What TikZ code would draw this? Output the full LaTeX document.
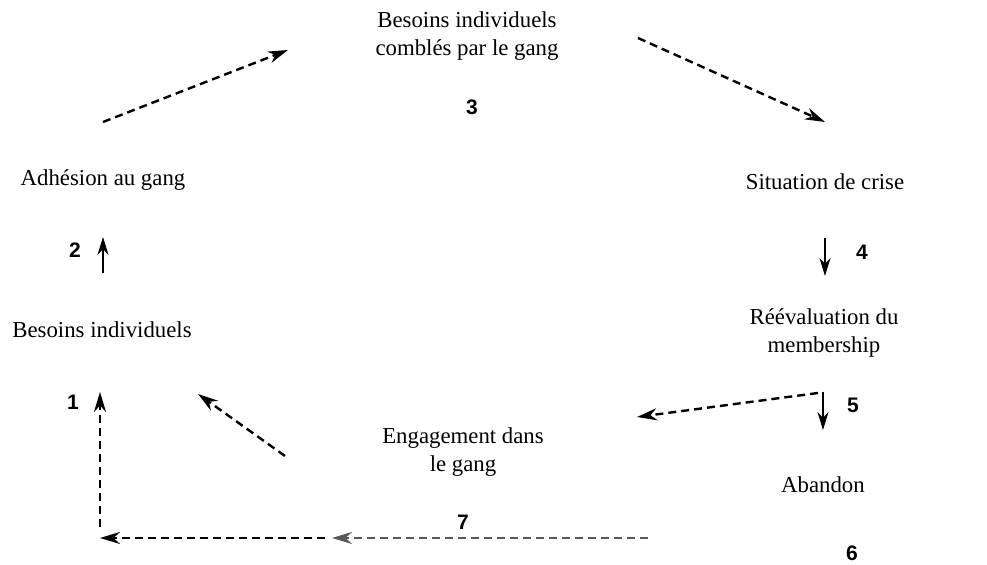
\documentclass[tikz,border=0pt]{standalone}
\usepackage{fontspec}
\setmainfont{Liberation Serif}
\newfontfamily\numfont{Liberation Sans}
\usetikzlibrary{arrows.meta}

\tikzset{
  etat/.style={align=center, inner sep=1pt, font=\fontsize{11.4}{14}\selectfont},
  num/.style={inner sep=1pt, font=\numfont\bfseries\fontsize{10.5}{12}\selectfont},
  lien/.style={-{Stealth[length=10pt,width=6pt]}, line width=1.2pt, dash pattern=on 4pt off 2.5pt},
  fleche/.style={-{Stealth[length=9pt,width=5.5pt]}, line width=0.9pt}
}

\begin{document}
\begin{tikzpicture}[x=0.5pt,y=-0.5pt]
  \useasboundingbox (0,0) rectangle (987,565);

  \node[etat] (comble) at (467,36) {Besoins individuels\\combl\'es par le gang};
  \node[etat] (adhesion) at (103,180) {Adh\'esion au gang};
  \node[etat] (besoins) at (102,330) {Besoins individuels};
  \node[etat] (crise) at (825,182) {Situation de crise};
  \node[etat] (reeval) at (824,333) {R\'e\'evaluation du\\membership};
  \node[etat] (abandon) at (823,485) {Abandon};
  \node[etat] (engage) at (463,452) {Engagement dans\\le gang};

  \node[num] (n1) at (73,402) {1};
  \node[num] (n2) at (75,250) {2};
  \node[num] (n3) at (472,107) {3};
  \node[num] (n4) at (862,252) {4};
  \node[num] (n5) at (853,405) {5};
  \node[num] (n6) at (852,553) {6};
  \node[num] (n7) at (463,522) {7};

  \coordinate (b1) at (100,527);  \coordinate (h1) at (100,392);
  \coordinate (b2) at (103,273);  \coordinate (h2) at (103,237);
  \coordinate (d3) at (103,122);  \coordinate (f3) at (288,50);
  \coordinate (d4) at (638,38);   \coordinate (f4) at (825,122);
  \coordinate (b4) at (825,238);  \coordinate (h4) at (825,276);
  \coordinate (b5) at (823,392);  \coordinate (h5) at (823,430);
  \coordinate (d6) at (818,393);  \coordinate (f6) at (637,417);
  \coordinate (d7) at (648,538);  \coordinate (m7) at (332,538);
  \coordinate (r7) at (325,538);  \coordinate (f7) at (100,538);
  \coordinate (d8) at (285,456);  \coordinate (f8) at (198,394);

  \draw[lien] (b1) -- (h1);
  \draw[fleche] (b2) -- (h2);
  \draw[lien] (d3) -- (f3);
  \draw[lien] (d4) -- (f4);
  \draw[fleche] (b4) -- (h4);
  \draw[fleche] (b5) -- (h5);
  \draw[lien] (d6) -- (f6);
  \draw[lien, black!65] (d7) -- (m7);
  \draw[lien] (r7) -- (f7);
  \draw[lien] (d8) -- (f8);
\end{tikzpicture}
\end{document}
